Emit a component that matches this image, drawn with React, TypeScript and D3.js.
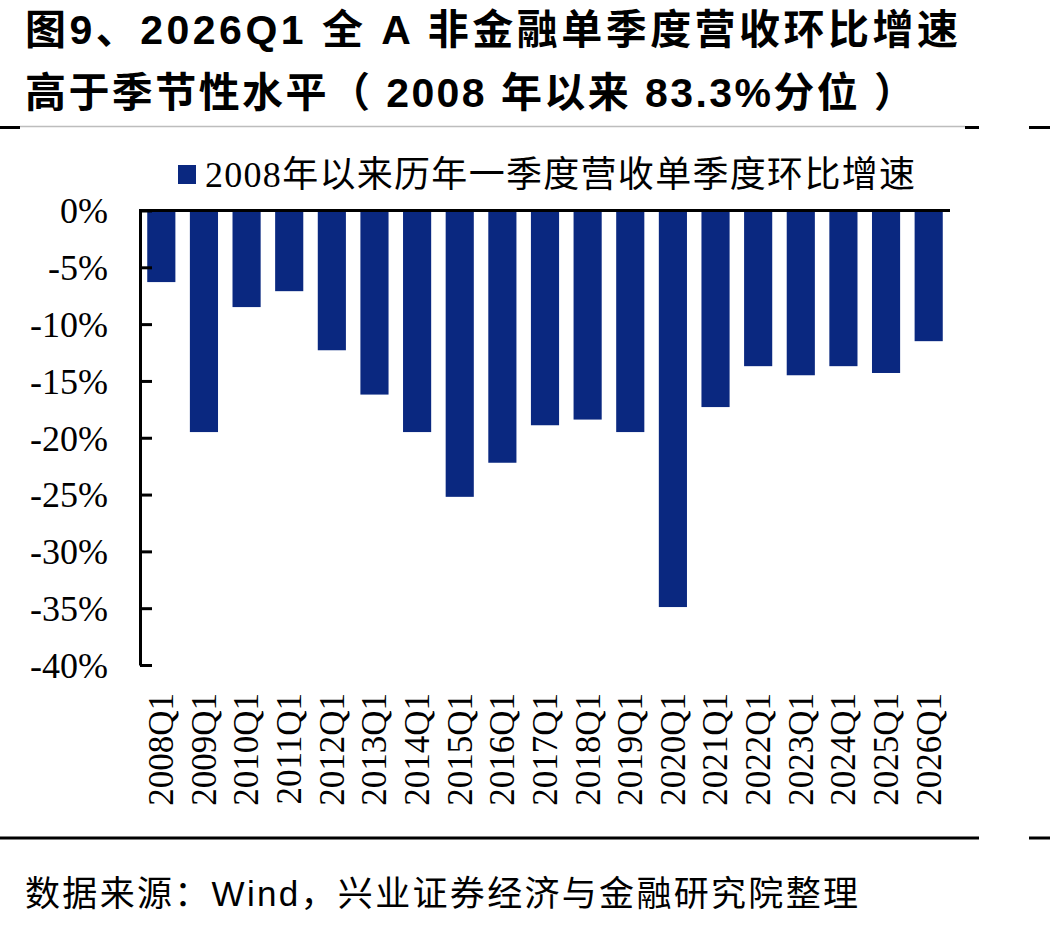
import React, { useEffect, useRef } from "react";
import * as d3 from "d3";

const quarters = [
  "2008Q1", "2009Q1", "2010Q1", "2011Q1", "2012Q1", "2013Q1", "2014Q1",
  "2015Q1", "2016Q1", "2017Q1", "2018Q1", "2019Q1", "2020Q1", "2021Q1",
  "2022Q1", "2023Q1", "2024Q1", "2025Q1", "2026Q1",
];
// 单季度营收环比增速（%）
const qoqGrowth = [
  -6.3, -19.5, -8.5, -7.1, -12.3, -16.2, -19.5, -25.2, -22.2, -18.9,
  -18.4, -19.5, -34.9, -17.3, -13.7, -14.5, -13.7, -14.3, -11.5,
];
const yTicks = [0, -5, -10, -15, -20, -25, -30, -35, -40];

const titleLines = [
  "图9、2026Q1  全  A  非金融单季度营收环比增速",
  "高于季节性水平（ 2008 年以来 83.3%分位 ）",
];
const titleWidths = [933, 890];
const legendLabel = "2008年以来历年一季度营收单季度环比增速";
const sourceNote = "数据来源：Wind，兴业证券经济与金融研究院整理";

const BAR = "#0a2880";
const SERIF = "'Times New Roman', 'Liberation Serif', 'Noto Sans CJK SC', serif";
const SANS = "Arial, 'Liberation Sans', 'Noto Sans CJK SC', sans-serif";

const QoQChart = () => {
  const ref = useRef(null);

  useEffect(() => {
    const svg = d3.select(ref.current);
    svg.selectAll("*").remove();

    const x = d3.scaleBand().domain(quarters).range([140, 950]).paddingInner(0.34).paddingOuter(0.17);
    const y = d3.scaleLinear().domain([0, -40]).range([210.5, 665]);

    // title, stretched to the width of the page header
    svg
      .append("g")
      .selectAll("text")
      .data(titleLines)
      .join("text")
      .attr("x", 25)
      .attr("y", (d, i) => 44 + i * 63)
      .attr("textLength", (d, i) => titleWidths[i])
      .attr("lengthAdjust", "spacing")
      .attr("font-family", SANS)
      .attr("font-weight", "bold")
      .attr("font-size", 41)
      .attr("fill", "#000")
      .text((d) => d);

    // separator under title
    svg.append("line").attr("x1", 20).attr("x2", 965).attr("y1", 126.5).attr("y2", 126.5)
      .attr("stroke", "#bdbdbd").attr("stroke-width", 1.5);
    [[0, 20], [965, 979], [1029, 1050]].forEach(([a, b]) => {
      svg.append("line").attr("x1", a).attr("x2", b).attr("y1", 127.5).attr("y2", 127.5)
        .attr("stroke", "#000").attr("stroke-width", 3);
    });

    // legend
    svg.append("rect").attr("x", 178).attr("y", 165).attr("width", 18).attr("height", 19).attr("fill", BAR);
    svg.append("text").attr("x", 205).attr("y", 187)
      .attr("textLength", 710).attr("lengthAdjust", "spacing")
      .attr("font-family", SERIF).attr("font-size", 36).attr("fill", "#000")
      .text(legendLabel);

    // bars
    svg
      .append("g")
      .selectAll("rect")
      .data(qoqGrowth)
      .join("rect")
      .attr("x", (d, i) => x(quarters[i]))
      .attr("y", y(0))
      .attr("width", x.bandwidth())
      .attr("height", (d) => y(d) - y(0))
      .attr("fill", BAR);

    // y axis, ticks pointing inward
    const yAxis = d3
      .axisLeft(y)
      .tickValues(yTicks)
      .tickSizeInner(-12)
      .tickSizeOuter(0)
      .tickPadding(32)
      .tickFormat((d) => `${d}%`);
    const gy = svg.append("g").attr("transform", "translate(140,0)").call(yAxis);
    gy.select(".domain").attr("stroke", "#000").attr("stroke-width", 3);
    gy.selectAll(".tick line").attr("stroke", "#000").attr("stroke-width", 3);
    gy.selectAll(".tick text")
      .attr("font-family", SERIF)
      .attr("font-size", 36)
      .attr("fill", "#000")
      .attr("dy", "0.34em");

    // zero line across the top
    svg.append("line").attr("x1", 139).attr("x2", x.range()[1]).attr("y1", y(0)).attr("y2", y(0))
      .attr("stroke", "#000").attr("stroke-width", 3);

    // rotated category labels
    svg
      .append("g")
      .selectAll("text")
      .data(quarters)
      .join("text")
      .attr("transform", (d) => `translate(${x(d) + x.bandwidth() / 2},693) rotate(-90)`)
      .attr("text-anchor", "end")
      .attr("dy", "0.34em")
      .attr("font-family", SERIF)
      .attr("font-size", 35)
      .attr("fill", "#000")
      .text((d) => d);

    // bottom separator
    svg.append("line").attr("x1", 0).attr("x2", 979).attr("y1", 838).attr("y2", 838)
      .attr("stroke", "#000").attr("stroke-width", 3);
    svg.append("line").attr("x1", 1029).attr("x2", 1050).attr("y1", 838).attr("y2", 838)
      .attr("stroke", "#000").attr("stroke-width", 3);

    // source
    svg.append("text").attr("x", 25).attr("y", 906)
      .attr("textLength", 833).attr("lengthAdjust", "spacing")
      .attr("font-family", SANS).attr("font-size", 35).attr("fill", "#000")
      .text(sourceNote);
  }, []);

  return (
    <svg
      ref={ref}
      width={1050}
      height={928}
      style={{ position: "absolute", left: 0, top: 0, background: "#fff" }}
    />
  );
};

export default function App() {
  return <QoQChart />;
}
